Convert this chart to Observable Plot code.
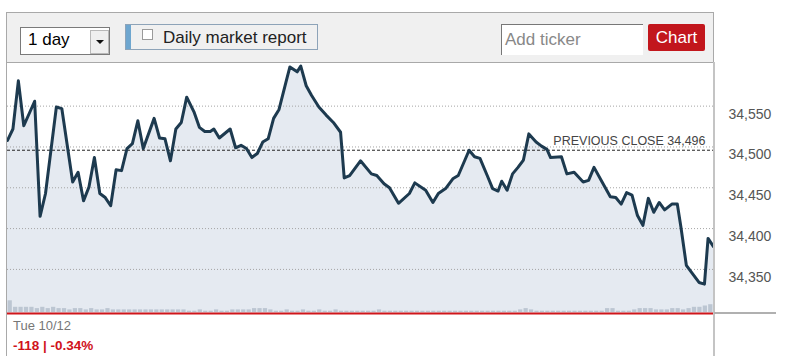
<!DOCTYPE html>
<html>
<head>
<meta charset="utf-8">
<script src="https://cdn.jsdelivr.net/npm/d3@7"></script>
<script src="https://cdn.jsdelivr.net/npm/@observablehq/plot@0.6"></script>
<style>
  html, body { margin: 0; padding: 0; background: #fff; }
  body { width: 788px; height: 356px; position: relative; overflow: hidden;
         font-family: Arial, "Liberation Sans", sans-serif; }
  .abs { position: absolute; box-sizing: border-box; }
  #toolbar { left: 6px; top: 12px; width: 708px; height: 51px; background: #f0f0f0; border: 1px solid #a9a9a9; }
  #sel { left: 20px; top: 27px; width: 90px; height: 28px; background: #fff; border: 1px solid #7a7a7a; }
  #selText { left: 28px; top: 30px; font-size: 17px; color: #000; }
  #selBtn { left: 90px; top: 30px; width: 19px; height: 24px; background: #efefef; border: 1px solid #b8b8b8; }
  #selArrow { left: 96px; top: 40px; width: 0; height: 0; border-left: 4px solid transparent; border-right: 4px solid transparent; border-top: 4px solid #111; }
  #report { left: 125px; top: 24px; width: 193px; height: 26px; background: #f0f0f0; border: 1px solid #8da3b8; }
  #reportBar { left: 126px; top: 25px; width: 5px; height: 24px; background: #6ea6cf; }
  #chk { left: 142px; top: 29px; width: 11px; height: 11px; background: #fff; border: 1px solid #9a9a9a; }
  #reportText { left: 163px; top: 28px; font-size: 17px; color: #222; }
  #ticker { left: 501px; top: 24px; width: 142px; height: 31px; background: #fff; border-left: 1px solid #777; border-top: 1px solid #777; }
  #tickerText { left: 505px; top: 30px; font-size: 17px; color: #888; }
  #btn { left: 648px; top: 24px; width: 57px; height: 27px; background: #c2161c; border-radius: 2px; color: #fff; font-size: 17px; text-align: center; line-height: 27px; }
  #chart { left: 0; top: 62px; }
  #vol { left: 0; top: 299px; }
  #date { left: 13px; top: 318px; font-size: 13px; color: #777; }
  #chg { left: 13px; top: 338px; font-size: 13.5px; font-weight: bold; color: #d0121b; }
</style>
</head>
<body>
<div id="chart" class="abs"></div>
<div id="vol" class="abs"></div>
<div id="toolbar" class="abs"></div>
<div id="sel" class="abs"></div>
<div id="selText" class="abs">1 day</div>
<div id="selBtn" class="abs"></div>
<div id="selArrow" class="abs"></div>
<div id="report" class="abs"></div>
<div id="reportBar" class="abs"></div>
<div id="chk" class="abs"></div>
<div id="reportText" class="abs">Daily market report</div>
<div id="ticker" class="abs"></div>
<div id="tickerText" class="abs">Add ticker</div>
<div id="btn" class="abs">Chart</div>
<div class="abs" style="left:6px;top:62px;width:1px;height:294px;background:#a9a9a9"></div>
<div class="abs" style="left:713px;top:62px;width:2px;height:294px;background:#c4c4c4"></div>
<div class="abs" style="left:714px;top:312px;width:62px;height:2px;background:#b0b0b0"></div>
<div id="date" class="abs">Tue 10/12</div>
<div id="chg" class="abs">-118 | -0.34%</div>
<script>
// Minutes since the 9:30 open
const minutes = [0,3,6,9,12,15,18,21,27,30,36,39,42,45,48,51,54,57,60,63,66,69,72,75,81,84,87,90,93,96,99,103,106,109,112,114,117,123,126,129,132,135,138,141,144,147,150,154,156,160,162,165,168,172,176,180,184,186,189,195,201,204,208,211,216,222,225,231,235,238,242,246,249,255,258,261,265,268,271,273,276,279,282,285,288,292,295,298,300,306,309,313,318,321,324,328,333,336,339,342,345,348,351,354,357,360,363,367,370,372,375,379,382,385,387,390];
// Index level
const prices = [34508,34522,34581,34526,34541,34556,34415,34443,34549,34547,34457,34469,34434,34451,34487,34443,34438,34428,34472,34471,34498,34504,34532,34498,34535,34511,34510,34483,34522,34530,34561,34543,34524,34519,34519,34522,34511,34522,34499,34502,34498,34487,34492,34506,34510,34535,34546,34581,34598,34592,34599,34575,34563,34549,34539,34530,34518,34462,34465,34483,34467,34465,34455,34450,34431,34443,34456,34447,34432,34443,34449,34461,34465,34496,34488,34486,34465,34449,34446,34458,34447,34467,34475,34484,34516,34506,34501,34497,34487,34488,34467,34469,34457,34459,34475,34459,34439,34438,34430,34444,34441,34416,34404,34437,34420,34432,34423,34430,34430,34402,34355,34343,34334,34332,34388,34378];
// Volume per 3-minute bucket (relative)
const volume = [9,4,4,4,4,3,4,3,4,3, 3,2,3,3,2,3,2,2,3,2, 2,2,2,2,2,2,2,2,2,2, 2,2,2,1,1,2,1,1,2,1, 1,2,2,2,2,3,3,3,2,1, 1,2,1,1,2,1,1,2,1,1, 2,1,1,1,1,1,1,1,2,1, 1,1,1,1,1,1,1,1,1,1, 1,1,1,1,1,1,1,1,1,1, 1,1,1,1,2,3,2,1,1,1, 1,1,1,1,1,1,1,1,1,1, 3,3,1,1,1,2,3,3,3,2, 2,2,3,3,2,3,4,4,5,6];
const yTicks = [34350, 34400, 34450, 34500, 34550];
const prevClose = 34496;
const prevLabel = "PREVIOUS CLOSE 34,496";
const yMin = 34296, yMax = 34601;

const data = minutes.map((t, i) => ({t, v: prices[i]}));
const volData = volume.map((v, i) => ({t: i * 3, v}));

const chart = Plot.plot({
  width: 788, height: 294,
  marginTop: 2, marginBottom: 43, marginLeft: 7, marginRight: 75,
  x: {domain: [0, 390], axis: null},
  y: {domain: [yMin, yMax]},
  style: {background: "transparent", fontFamily: "Arial, 'Liberation Sans', sans-serif"},
  marks: [
    Plot.areaY(data, {x: "t", y1: yMin, y2: "v", fill: "#e5eaf1"}),
    Plot.ruleY(yTicks, {stroke: "#a4a4a4", strokeDasharray: "1,2"}),
    Plot.ruleY([prevClose], {stroke: "#222", strokeDasharray: "3,2"}),
    Plot.text([prevLabel], {x: 390, y: prevClose, text: d => d, textAnchor: "end", dx: -8, dy: -9, fontSize: 12.5, fill: "#444"}),
    Plot.lineY(data, {x: "t", y: "v", stroke: "#1d3a4f", strokeWidth: 3, strokeLinejoin: "round"}),
    Plot.axisY(yTicks, {anchor: "right", label: null, tickSize: 0, tickPadding: 15, dy: 8, tickFormat: d3.format(","), fontSize: 14, color: "#555"}),
    Plot.ruleY([yMin], {stroke: "#d0161b", strokeWidth: 2})
  ]
});
document.getElementById("chart").appendChild(chart);

const vol = Plot.plot({
  width: 788, height: 13,
  marginTop: 0, marginBottom: 0, marginLeft: 7, marginRight: 75,
  x: {domain: [0, 390], axis: null},
  y: {domain: [0, 10], axis: null},
  style: {background: "transparent"},
  marks: [
    Plot.rectY(volData, {x1: "t", x2: d => d.t + 3, y: "v", fill: "#bcc6d2", insetLeft: 0.6, insetRight: 0.6})
  ]
});
document.getElementById("vol").appendChild(vol);
</script>
</body>
</html>
